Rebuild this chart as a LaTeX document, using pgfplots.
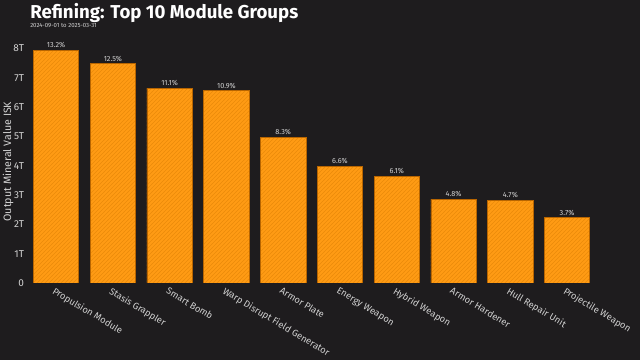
\documentclass[border=0pt]{standalone}
\usepackage{fontspec}
\setmainfont{Fira Sans}
\usepackage{pgfplots}
\pgfplotsset{compat=1.18}
\usetikzlibrary{patterns}
\definecolor{bg}{HTML}{1E1C1E}
\definecolor{barc}{HTML}{FF9B14}
\definecolor{hatchc}{HTML}{EA8A0A}
\definecolor{edgec}{HTML}{B86500}
\definecolor{txt}{HTML}{D2D2D2}
\begin{document}
\begin{tikzpicture}
\fill[bg] (-22.5pt,-57.75pt) rectangle (457.5pt,212.25pt);
\begin{axis}[
  at={(0pt,0pt)}, anchor=south west,
  scale only axis, width=422pt, height=176pt,
  xmin=-0.46, xmax=9.45, ymin=0, ymax=8,
  axis line style={draw=none},
  major tick length=0pt,
  ytick={0,1,2,3,4,5,6,7,8},
  yticklabels={0,1T,2T,3T,4T,5T,6T,7T,8T},
  xtick={0,...,9},
  xticklabels={Propulsion Module,Stasis Grappler,Smart Bomb,Warp Disrupt Field Generator,Armor Plate,Energy Weapon,Hybrid Weapon,Armor Hardener,Hull Repair Unit,Projectile Weapon},
  /pgf/number format/assume math mode=true,
  yticklabel style={font=\fontsize{7.5}{8}\selectfont, text=txt, xshift=-1pt},
  xticklabel style={font=\fontsize{7}{8}\selectfont, text=txt, rotate=-31, anchor=north west, xshift=0pt, yshift=-1.5pt, inner sep=1pt},
  ybar, bar width=0.8,
  point meta=explicit symbolic,
  nodes near coords={\pgfplotspointmeta},
  nodes near coords style={font=\fontsize{5.5}{6}\selectfont, text=txt, inner sep=1.5pt},
]
\addplot[fill=barc, draw=edgec, line width=0.5pt,
  postaction={pattern=north east lines, pattern color=hatchc}]
coordinates {
(0,7.93) [13.2\%]
(1,7.48) [12.5\%]
(2,6.64) [11.1\%]
(3,6.56) [10.9\%]
(4,4.97) [8.3\%]
(5,3.97) [6.6\%]
(6,3.64) [6.1\%]
(7,2.86) [4.8\%]
(8,2.82) [4.7\%]
(9,2.23) [3.7\%]
};
\end{axis}
\node[anchor=base west, inner sep=0pt, text=white, font=\fontsize{14}{16}\selectfont\bfseries] at (0pt,198.5pt) {Refining: Top 10 Module Groups};
\node[anchor=base west, inner sep=0pt, text=txt, font=\fontsize{4.5}{5}\selectfont] at (0pt,191.5pt) {2024-09-01 to 2025-03-31};
\node[rotate=90, inner sep=0pt, text=txt, font=\fontsize{8}{9}\selectfont] at (-16.5pt,91pt) {Output Mineral Value ISK};
\pgfresetboundingbox
\path[use as bounding box] (-22.5pt,-57.75pt) rectangle (457.5pt,212.25pt);
\end{tikzpicture}
\end{document}
